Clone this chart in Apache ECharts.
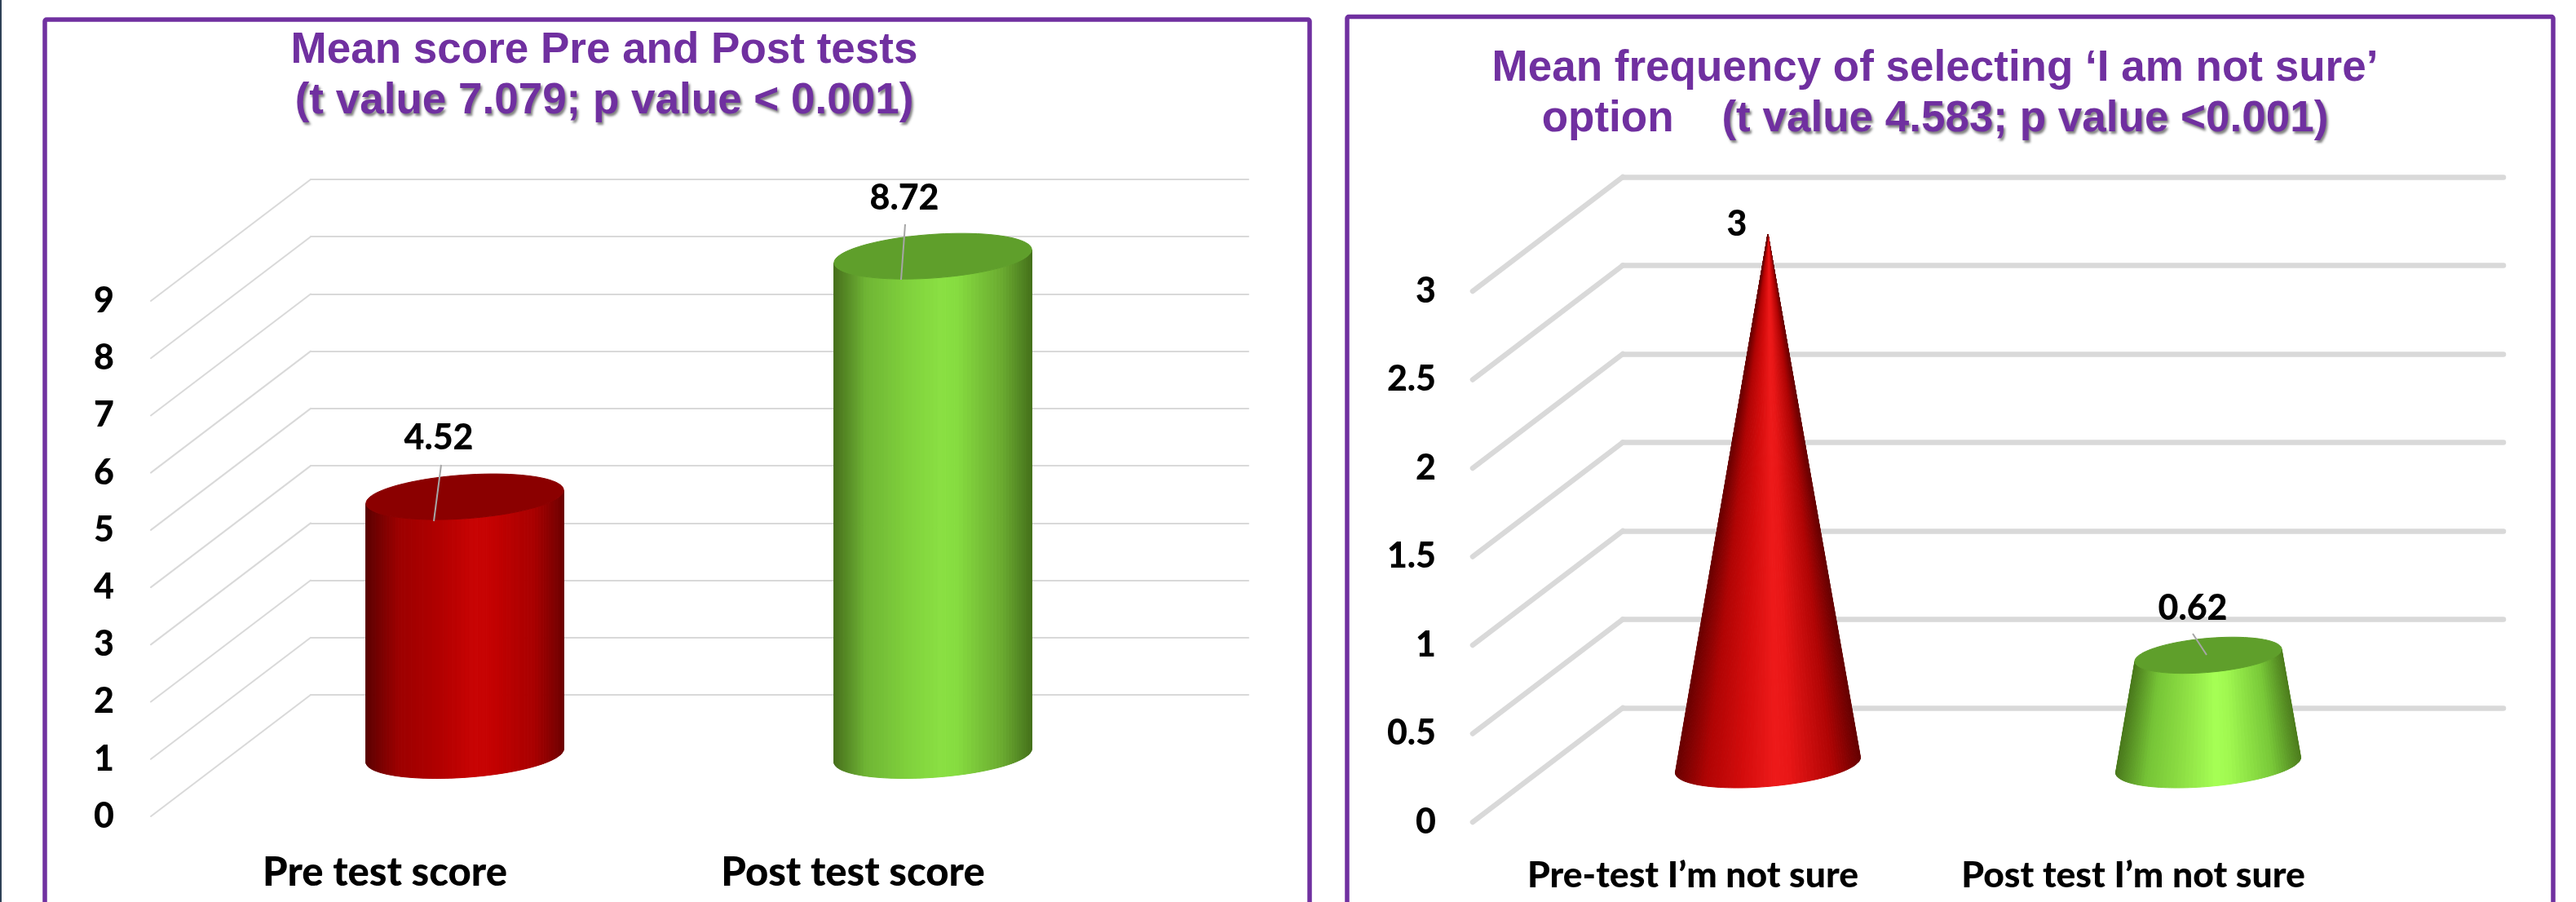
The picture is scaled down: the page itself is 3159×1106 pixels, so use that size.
<!DOCTYPE html>
<html><head><meta charset="utf-8">
<style>html,body{margin:0;padding:0;background:#fff}#c{width:3159px;height:1106px}</style>
<script src="https://cdn.jsdelivr.net/npm/echarts@6/dist/echarts.min.js"></script>
</head><body><div id="c"></div>
<script>
// ---- data ----
const scoreCategories = ['Pre test score', 'Post test score'];
const scoreValues = [4.52, 8.72];
const scoreTicks = [0, 1, 2, 3, 4, 5, 6, 7, 8, 9];
const sureCategories = ['Pre-test I’m not sure', 'Post test I’m not sure'];
const sureValues = [3, 0.62];
const sureTicks = [0, 0.5, 1, 1.5, 2, 2.5, 3];

// ---- styles ----
const purple = '#7030a0';
const labelFont = 'Lato';
const labelWeight = 900;
const darkRed = ['#5c0000', '#9c0000', '#b00000', '#c80404', '#c60202', '#a80000', '#6c0000'];
const darkGreen = ['#47701c', '#6fb534', '#7fd03c', '#8ae043', '#86dc40', '#6aaa30', '#44701a'];
const brightRed = ['#6a0000', '#b00404', '#d40c0c', '#ee1a1a', '#e81616', '#b00404', '#640000'];
const brightGreen = ['#4a7a1c', '#76c436', '#8ee044', '#a6ff55', '#a0f850', '#78c838', '#4c7c1c'];
const ramp = [0, 0.16, 0.36, 0.54, 0.62, 0.85, 1];

const panels = {
  score: { left: 185, top: 369, width: 1148, height: 632, backLeft: 381, backTop: 220, backWidth: 1150,
           dx: 98, dy: 74.5, ux: 116, vx: 35, vy: 28, gridWidth: 2,
           caps: ['#8b0000', '#5f9f2b'], ramps: [darkRed, darkGreen], taperMax: null,
           labelAt: [[538, 537], [1109, 243]], leaders: [[541, 570, 532, 639], [1110, 275, 1105, 343]] },
  sure:  { left: 1806, top: 357, width: 1080, height: 651, backLeft: 1990, backTop: 217, backWidth: 1080,
           dx: 92, dy: 70, ux: 107, vx: 38, vy: 28, gridWidth: 6.5,
           caps: ['#8b0000', '#5f9f2b'], ramps: [brightRed, brightGreen], taperMax: 3,
           labelAt: [[2130, 275], [2689, 746]], leaders: [null, [2689, 777, 2706, 803]] }
};

function hex(c){ return [1,3,5].map(i => parseInt(c.substr(i,2),16)); }
function rampColor(stops, f){
  let i = 0;
  while (i < ramp.length - 2 && f > ramp[i+1]) i++;
  const t = Math.min(1, Math.max(0, (f - ramp[i]) / (ramp[i+1] - ramp[i])));
  const a = hex(stops[i]), b = hex(stops[i+1]);
  return 'rgb(' + a.map((v,k) => Math.round(v + (b[k]-v)*t)).join(',') + ')';
}

function solidRenderer(p){
  return function(params, api){
    const i = api.value(0), v = api.value(1);
    const base = api.coord([i, 0]), head = api.coord([i, v]);
    const cx = base[0] + p.dx, by = base[1] - p.dy, ty = head[1] - p.dy;
    const k = p.taperMax ? 1 - v / p.taperMax : 1;
    const t0 = Math.atan2(p.vx, p.ux);
    const pt = (y, s, t) => [cx + s*(Math.cos(t)*p.ux + Math.sin(t)*p.vx), y - s*Math.sin(t)*p.vy];
    const N = 72, children = [];
    for (let n = 0; n < N; n++){
      const a = t0 - Math.PI*n/N, b = t0 - Math.PI*(n+1)/N;
      const u = (Math.cos((a+b)/2 - t0) + 1) / 2;
      const col = rampColor(p.ramps[i], u);
      children.push({ type:'polygon', shape:{ points:[pt(by,1,a), pt(by,1,b), pt(ty,k,b), pt(ty,k,a)] },
        style:{ fill:col, stroke:col, lineWidth:1 } });
    }
    if (k > 0){
      const cap = [];
      for (let n = 0; n < 90; n++) cap.push(pt(ty, k, Math.PI*2*n/90));
      children.push({ type:'polygon', shape:{ points:cap }, style:{ fill:p.caps[i], stroke:p.caps[i], lineWidth:1 } });
    }
    const ld = p.leaders[i];
    if (ld) children.push({ type:'line', shape:{ x1:ld[0], y1:ld[1], x2:ld[2], y2:ld[3] },
      style:{ stroke:'#a6a6a6', lineWidth:2 } });
    const at = p.labelAt[i];
    children.push({ type:'text', x:at[0], y:at[1], style:{ text:String(v), fontFamily:labelFont, fontWeight:labelWeight,
      fontSize:43, fill:'#000', align:'center', verticalAlign:'middle' } });
    return { type:'group', children };
  };
}
function slantRenderer(p){
  return function(params, api){
    const f = api.coord([0, api.value(1)]);
    const x0 = params.coordSys.x;
    return { type:'line', shape:{ x1:x0, y1:f[1], x2:p.backLeft, y2:f[1] - (p.top - p.backTop) },
      style:{ stroke:'#d9d9d9', lineWidth:p.gridWidth, lineCap:'round' } };
  };
}
function frontX(cats, margin, size){
  return { type:'category', data:cats, axisLine:{show:false}, axisTick:{show:false}, splitLine:{show:false},
    axisLabel:{ margin, interval:0, fontFamily:labelFont, fontWeight:labelWeight, fontSize:size, color:'#000' } };
}
function frontY(max, step){
  return { type:'value', min:0, max, interval:step, axisLine:{show:false}, axisTick:{show:false}, splitLine:{show:false},
    axisLabel:{ margin:45, fontFamily:labelFont, fontWeight:labelWeight, fontSize:43, color:'#000' } };
}
function backX(idx){ return { type:'category', gridIndex:idx, data:[''], axisLine:{show:false}, axisTick:{show:false}, axisLabel:{show:false}, splitLine:{show:false} }; }
function backY(idx, max, step, w){
  return { type:'value', gridIndex:idx, min:0, max, interval:step, axisLine:{show:false}, axisTick:{show:false}, axisLabel:{show:false},
    splitLine:{ show:true, lineStyle:{ color:'#d9d9d9', width:w, cap:'round' } } };
}
const plain = { fontFamily:'Liberation Sans', fontWeight:'bold', fontSize:53, lineHeight:62, color:purple };
const shade = Object.assign({}, plain, { textShadowColor:'rgba(60,60,60,0.65)', textShadowBlur:3, textShadowOffsetX:2, textShadowOffsetY:3 });
function titleOf(x, top, text){
  return { text, left:x, top, padding:0, textAlign:'center', itemGap:0, textStyle:{ rich:{ a:plain, b:shade } } };
}

const chart = echarts.init(document.getElementById('c'));
const A = panels.score, B = panels.sure;
chart.setOption({
  animation:false, backgroundColor:'#ffffff',
  title:[
    titleOf(741, 31, '{a|Mean score Pre and Post tests}\n{b|(t value 7.079; p value < 0.001)}'),
    titleOf(2373, 53, '{a|Mean frequency of selecting ‘I am not sure’}\n{a|option    }{b|(t value 4.583; p value <0.001)}')
  ],
  grid:[
    { left:A.left, top:A.top, width:A.width, height:A.height },
    { left:A.backLeft, top:A.backTop, width:A.backWidth, height:A.height },
    { left:B.left, top:B.top, width:B.width, height:B.height },
    { left:B.backLeft, top:B.backTop, width:B.backWidth, height:B.height }
  ],
  xAxis:[
    Object.assign(frontX(scoreCategories, 45, 49), {gridIndex:0}), backX(1),
    Object.assign(frontX(sureCategories, 43, 44.5), {gridIndex:2}), backX(3)
  ],
  yAxis:[
    Object.assign(frontY(9, 1), {gridIndex:0}), backY(1, 9, 1, A.gridWidth),
    Object.assign(frontY(3, 0.5), {gridIndex:2}), backY(3, 3, 0.5, B.gridWidth)
  ],
  series:[
    { type:'custom', name:'score grid', xAxisIndex:0, yAxisIndex:0, z:2, silent:true, clip:false,
      renderItem:slantRenderer(A), encode:{x:0,y:1}, data:scoreTicks.map(v => [0, v]) },
    { type:'custom', name:'Mean score', xAxisIndex:0, yAxisIndex:0, z:5, silent:true, clip:false,
      renderItem:solidRenderer(A), encode:{x:0,y:1}, data:scoreValues.map((v,i) => [i, v]) },
    { type:'custom', name:'not sure grid', xAxisIndex:2, yAxisIndex:2, z:2, silent:true, clip:false,
      renderItem:slantRenderer(B), encode:{x:0,y:1}, data:sureTicks.map(v => [0, v]) },
    { type:'custom', name:'Mean frequency', xAxisIndex:2, yAxisIndex:2, z:5, silent:true, clip:false,
      renderItem:solidRenderer(B), encode:{x:0,y:1}, data:sureValues.map((v,i) => [i, v]) }
  ],
  graphic:[
    { type:'rect', shape:{x:0,y:0,width:2,height:1106}, style:{fill:'#2f4157'}, z:1 },
    { type:'rect', shape:{x:55,y:24,width:1551,height:1200,r:2}, style:{fill:'none',stroke:purple,lineWidth:5.5}, z:1 },
    { type:'rect', shape:{x:1652,y:20.5,width:1479,height:1200,r:2}, style:{fill:'none',stroke:purple,lineWidth:5.5}, z:1 }
  ]
});
</script></body></html>
